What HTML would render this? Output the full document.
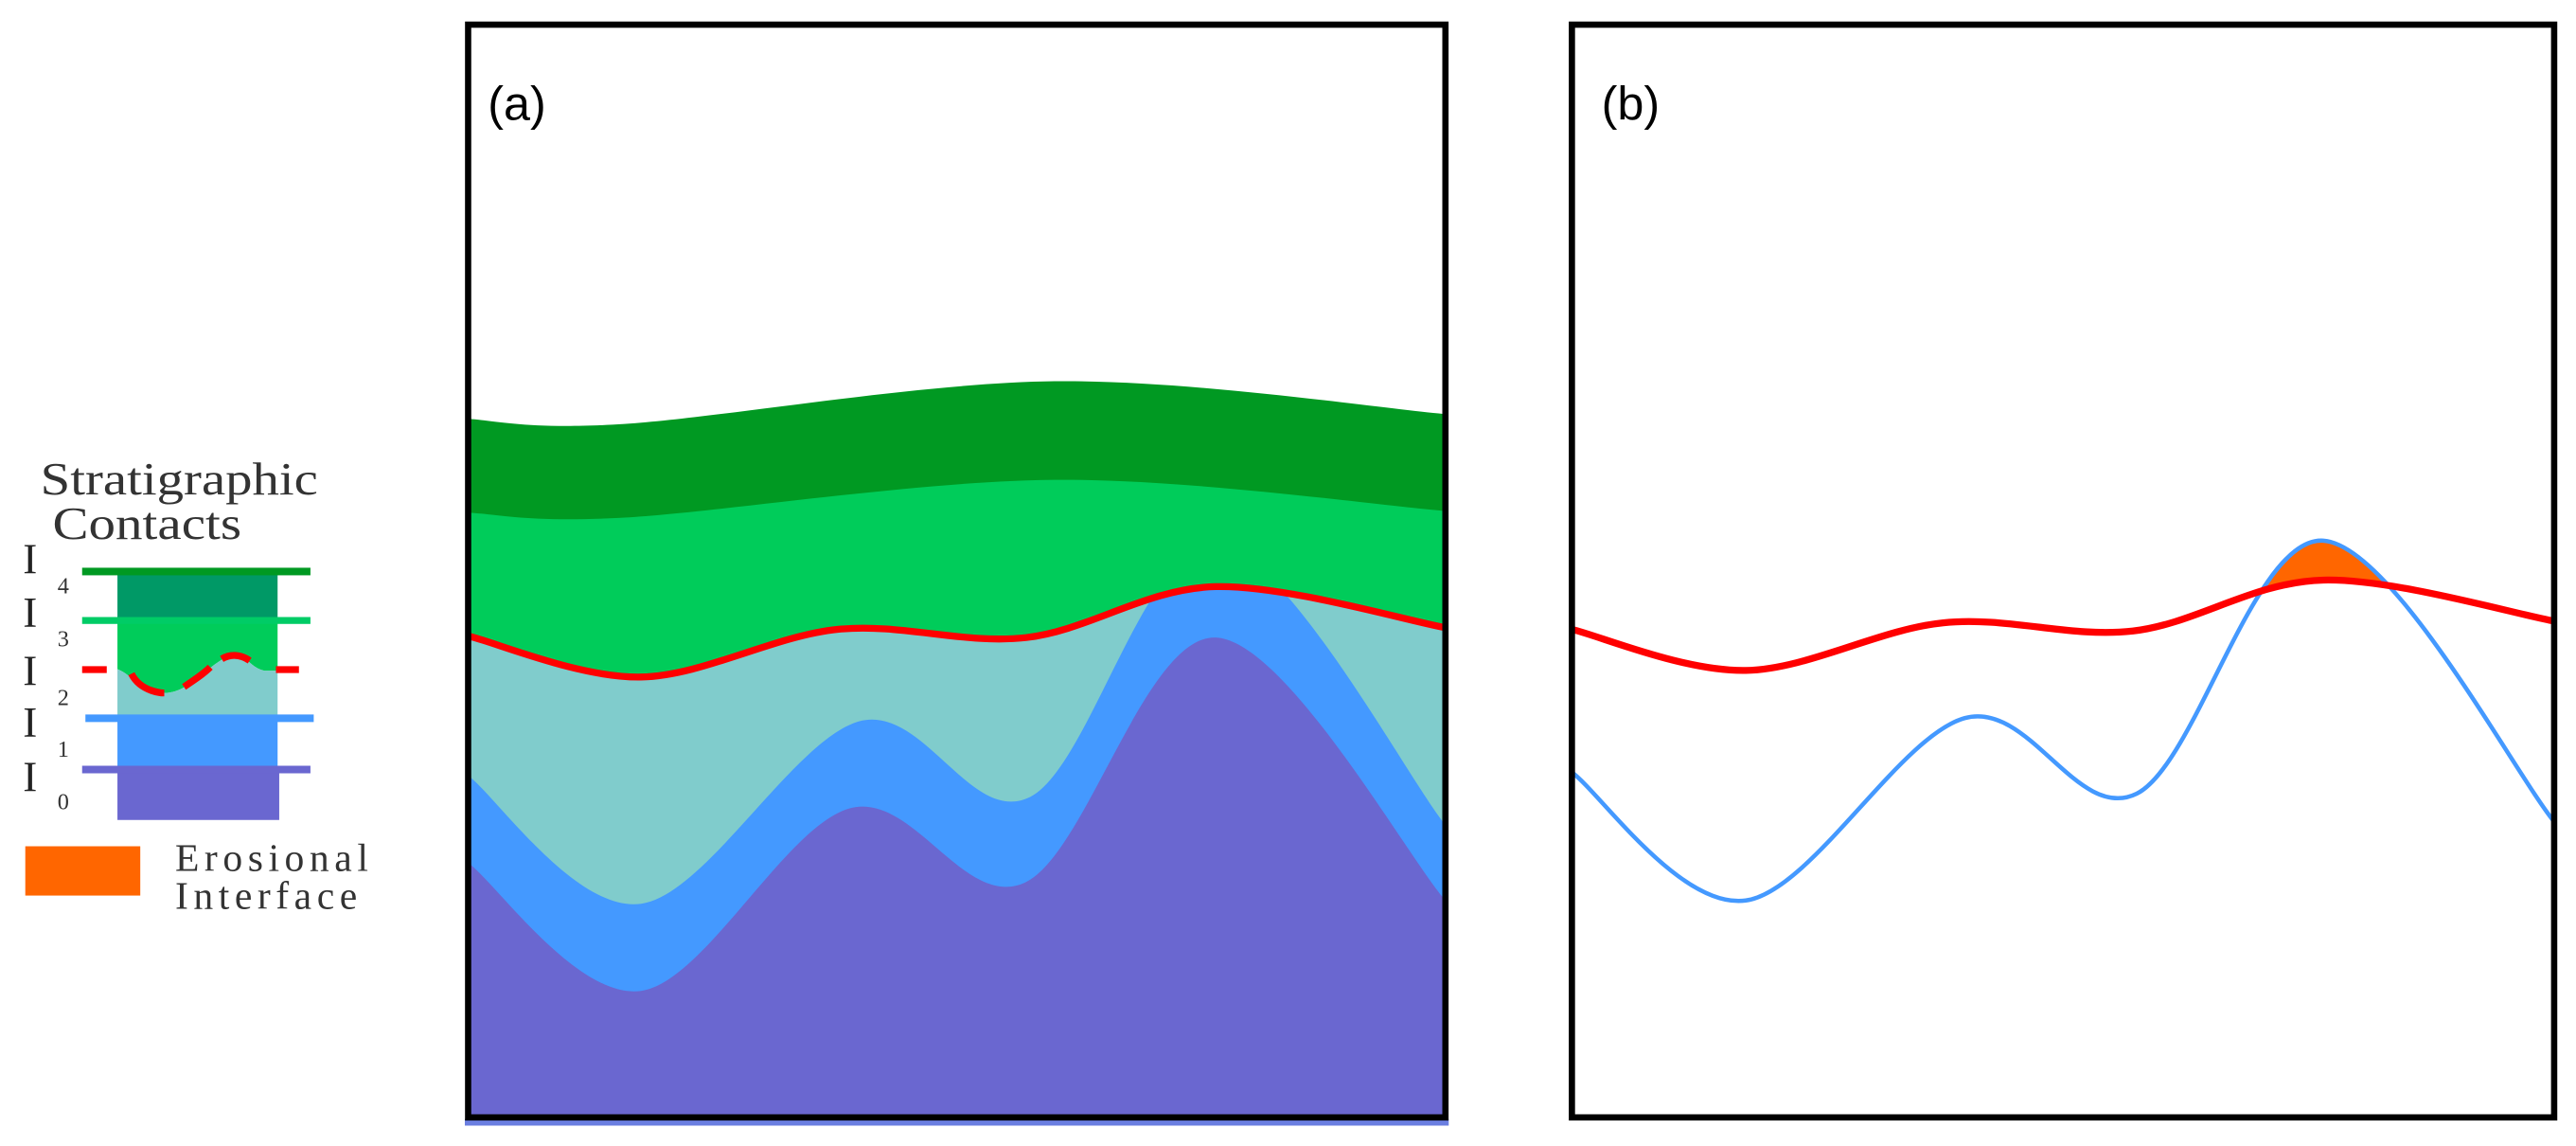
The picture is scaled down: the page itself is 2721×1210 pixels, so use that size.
<!DOCTYPE html>
<html><head><meta charset="utf-8"><style>
html,body{margin:0;padding:0;background:#fff;}
svg{display:block;}
</style></head><body>
<svg id="fig" width="2721" height="1210" viewBox="0 0 1568.3 697.4" xmlns="http://www.w3.org/2000/svg">
  <defs>
    <clipPath id="clipA"><rect x="285" y="15" width="595" height="665"/></clipPath>
    <clipPath id="clipB"><rect x="957" y="15" width="598" height="665"/></clipPath>
    <clipPath id="belowRed"><path id="belowRedPath" d=""/></clipPath>
    <clipPath id="aboveRedB"><path id="aboveRedBPath" d=""/></clipPath>
  </defs>

  <g font-family="'Liberation Serif', serif" fill="#333">
    <text x="24.6" y="301" font-size="28" textLength="169" lengthAdjust="spacingAndGlyphs">Stratigraphic</text>
    <text x="32" y="328" font-size="28" textLength="115" lengthAdjust="spacingAndGlyphs">Contacts</text>

    <rect x="71.5" y="349" width="97.5" height="28" fill="#009966"/>
    <path d="M71.5 377 H169 V408.2 L161 408.2 C152 406 150 398.7 144 398.7 C130 398.7 118 421.7 100 421.7 C86 421.7 80 410 71.5 407.3 Z" fill="#00cc5a"/>
    <path d="M71.5 407.3 C80 410 86 421.7 100 421.7 C118 421.7 130 398.7 144 398.7 C150 398.7 152 406 161 408.2 L169 408.2 V436 H71.5 Z" fill="#80cccc"/>
    <rect x="71.5" y="436" width="97.5" height="32" fill="#4499ff"/>
    <rect x="71.5" y="468" width="98.5" height="31" fill="#6a67d0"/>

    <rect x="50" y="345.5" width="139" height="4.6" fill="#009922"/>
    <rect x="50" y="375.5" width="139" height="4.2" fill="#00cc66"/>
    <path d="M50 407.5 H65 M80 410 C86 421.7 100 421.7 100 421.7 M112 418 C118 414 124 410 128 406 M135 401 C140 398 146 398 152 402 M168 407.5 H182" stroke="#ff0000" stroke-width="4.2" fill="none"/>
    <rect x="52" y="434.8" width="139" height="4.6" fill="#4499ff"/>
    <rect x="50" y="466" width="139" height="4.6" fill="#6a67d0"/>

    <g font-size="26" fill="#222">
      <text x="14" y="349">I</text>
      <text x="14" y="381.5">I</text>
      <text x="14" y="417">I</text>
      <text x="14" y="448.5">I</text>
      <text x="14" y="481.5">I</text>
    </g>
    <g font-size="14">
      <text x="35" y="361">4</text>
      <text x="35" y="393.5">3</text>
      <text x="35" y="429">2</text>
      <text x="35" y="460.5">1</text>
      <text x="35" y="492.5">0</text>
    </g>

    <rect x="15.4" y="515" width="70" height="30" fill="#ff6600"/>
    <text x="106.6" y="530" font-size="24" letter-spacing="3.2">Erosional</text>
    <text x="106.6" y="553" font-size="24" letter-spacing="3.2">Interface</text>
  </g>

  <g id="panelA">
    <rect x="283" y="681" width="599" height="4" fill="#6a7ee0"/>
    <g id="layersA" clip-path="url(#clipA)"></g>
    <rect x="285" y="15" width="595" height="665" fill="none" stroke="#000" stroke-width="3.8"/>
    <text x="297" y="73" font-family="'Liberation Sans', sans-serif" font-size="29" fill="#000">(a)</text>
  </g>

  <g id="panelB">
    <g id="layersB" clip-path="url(#clipB)"></g>
    <rect x="957" y="15" width="598" height="665" fill="none" stroke="#000" stroke-width="3.8"/>
    <text x="975" y="73" font-family="'Liberation Sans', sans-serif" font-size="29" fill="#000">(b)</text>
  </g>
</svg>
<script>
const darkGreenX = [0, 0.16, 0.60, 1];
const darkGreenTop = [240, 243, 217, 237];
const lightGreenX = [0, 0.16, 0.60, 1];
const lightGreenTop = [297, 300, 277, 296];
const redX = [0, 0.177, 0.378, 0.571, 0.765, 1];
const redDepth = [372, 397, 368, 373, 342, 367];
const blueX = [0, 0.177, 0.40, 0.575, 0.765, 1];
const blueDepth = [457, 535, 424, 470, 316, 487];
const purpleX = [0, 0.177, 0.39, 0.57, 0.765, 1];
const purpleDepth = [510, 588, 477, 522, 373, 533];

const NS = 'http://www.w3.org/2000/svg';
const TOP = 15, BOTTOM = 680;

function pts(xs, ys, left, width) {
  return xs.map((f, i) => [left + f * width, TOP + ys[i]]);
}
function smooth(p) {
  let d = 'M' + p[0][0].toFixed(2) + ' ' + p[0][1].toFixed(2);
  for (let i = 0; i < p.length - 1; i++) {
    const p0 = p[i - 1] || p[i], p1 = p[i], p2 = p[i + 1], p3 = p[i + 2] || p2;
    const c1 = [p1[0] + (p2[0] - p0[0]) / 6, p1[1] + (p2[1] - p0[1]) / 6];
    const c2 = [p2[0] - (p3[0] - p1[0]) / 6, p2[1] - (p3[1] - p1[1]) / 6];
    d += ' C' + c1[0].toFixed(2) + ' ' + c1[1].toFixed(2) + ' ' + c2[0].toFixed(2) + ' ' + c2[1].toFixed(2) + ' ' + p2[0].toFixed(2) + ' ' + p2[1].toFixed(2);
  }
  return d;
}
function fillBelow(p, left, width) {
  return smooth(p) + ' L' + (left + width + 5) + ' ' + p[p.length - 1][1] + ' L' + (left + width + 5) + ' ' + (BOTTOM + 5) + ' L' + (left - 5) + ' ' + (BOTTOM + 5) + ' L' + (left - 5) + ' ' + p[0][1] + ' Z';
}
function mk(parent, d, attrs) {
  const el = document.createElementNS(NS, 'path');
  el.setAttribute('d', d);
  for (const k in attrs) el.setAttribute(k, attrs[k]);
  parent.appendChild(el);
  return el;
}

const aL = 285, aW = 595;
const gA = document.getElementById('layersA');
const redA = pts(redX, redDepth, aL, aW);
document.getElementById('belowRedPath').setAttribute('d', fillBelow(redA, aL, aW));

let e;
e = mk(gA, fillBelow(pts(darkGreenX, darkGreenTop, aL, aW), aL, aW), {fill: '#009922'});


e = mk(gA, fillBelow(pts(lightGreenX, lightGreenTop, aL, aW), aL, aW), {fill: '#00cc5a'});


const subA = document.createElementNS(NS, 'g');
subA.setAttribute('clip-path', 'url(#belowRed)');


gA.appendChild(subA);
e = mk(subA, fillBelow(redA, aL, aW), {fill: '#80cccc'});


e = mk(subA, fillBelow(pts(blueX, blueDepth, aL, aW), aL, aW), {fill: '#4499ff'});


e = mk(subA, fillBelow(pts(purpleX, purpleDepth, aL, aW), aL, aW), {fill: '#6a67d0'});


e = mk(gA, smooth(redA), {fill: 'none', stroke: '#ff0000', 'stroke-width': 4.2, 'stroke-linejoin': 'round'});



const bL = 957, bW = 598;
const gB = document.getElementById('layersB');
const redB = pts(redX, redDepth, bL, bW).map(p => [p[0], p[1] - 4]);
const blueB = pts(blueX, blueDepth, bL, bW).map(p => [p[0], p[1] - 2]);
document.getElementById('aboveRedBPath').setAttribute('d', smooth(redB) + ' L' + (bL + bW + 5) + ' ' + (TOP - 5) + ' L' + (bL - 5) + ' ' + (TOP - 5) + ' Z');
e = mk(gB, fillBelow(blueB, bL, bW), {fill: '#ff6600', 'clip-path': 'url(#aboveRedB)'});


e = mk(gB, smooth(blueB), {fill: 'none', stroke: '#4499ff', 'stroke-width': 2.6});


e = mk(gB, smooth(redB), {fill: 'none', stroke: '#ff0000', 'stroke-width': 4.2, 'stroke-linejoin': 'round'});


</script>
</body></html>
